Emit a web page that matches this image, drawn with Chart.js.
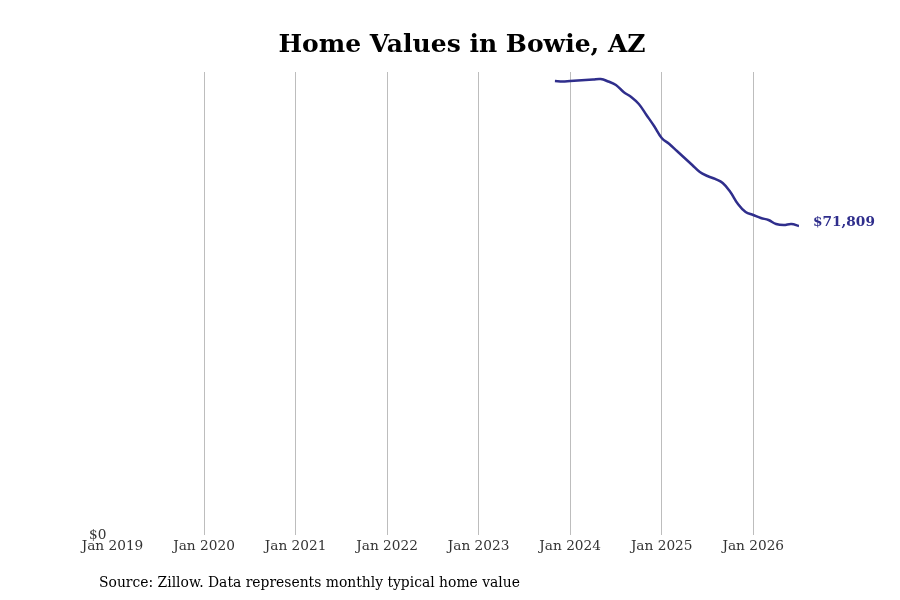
<!DOCTYPE html>
<html>
<head>
<meta charset="utf-8">
<script src="https://cdn.jsdelivr.net/npm/chart.js@4.4.1/dist/chart.umd.min.js"></script>
<style>
html,body{margin:0;padding:0;background:#fff;}
#wrap{width:900px;height:600px;position:relative;}
</style>
</head>
<body>
<div id="wrap"><canvas id="c" width="900" height="600"></canvas></div>
<script>
// Months counted from Jan 2019 (index 0)
const monthIndex = [58,59,60,61,62,63,64,65,66,67,68,69,70,71,72,73,74,75,76,77,78,79,80,81,82,83,84,85,86,87,88,89,90];
const homeValues = [105510,105390,105510,105630,105740,105860,105970,105390,104580,102950,101790,100160,97610,95050,92260,90870,89240,87620,85990,84360,83430,82740,81800,79710,76920,75070,74370,73670,73210,72280,72040,72280,71809];
const yearTickIndex = [0,12,24,36,48,60,72,84];
const yearTickLabels = ['Jan 2019','Jan 2020','Jan 2021','Jan 2022','Jan 2023','Jan 2024','Jan 2025','Jan 2026'];
const titleText = 'Home Values in Bowie, AZ';
const sourceText = 'Source: Zillow. Data represents monthly typical home value';
const lineColor = '#2f2e8c';
const FONT = "'DejaVu Serif', serif";

const points = monthIndex.map((m,i)=>({x:m,y:homeValues[i]}));

const extras = {
  id:'extras',
  afterDraw(chart){
    const ctx = chart.ctx;
    ctx.save();
    ctx.fillStyle = '#000';
    ctx.font = "bold 25px " + FONT;
    ctx.textAlign = 'center';
    ctx.textBaseline = 'middle';
    ctx.fillText(titleText, 462, 45);
    ctx.font = "13.9px " + FONT;
    ctx.textAlign = 'left';
    ctx.fillText(sourceText, 99, 583);
    const meta = chart.getDatasetMeta(0);
    const last = meta.data[meta.data.length-1];
    ctx.fillStyle = lineColor;
    ctx.font = "bold 13.7px " + FONT;
    ctx.fillText('$' + homeValues[homeValues.length-1].toLocaleString('en-US'), last.x + 14, last.y - 4);
    ctx.restore();
  }
};

new Chart(document.getElementById('c'), {
  type:'line',
  data:{datasets:[{data:points,borderColor:lineColor,borderWidth:2.5,pointRadius:0,tension:0.4,fill:false}]},
  options:{
    responsive:false,
    animation:false,
    layout:{padding:{top:72,right:101,left:0,bottom:0}},
    plugins:{legend:{display:false},tooltip:{enabled:false}},
    scales:{
      x:{
        type:'linear',min:0,max:90,
        border:{display:false},
        grid:{lineWidth:1,drawTicks:false,
          color:(c)=> (c.tick && c.tick.value===0) ? 'rgba(0,0,0,0)' : '#bdbdbd'},
        afterBuildTicks:(s)=>{s.ticks = yearTickIndex.map(v=>({value:v}));},
        afterFit:(s)=>{s.height = 65;},
        ticks:{autoSkip:false,maxRotation:0,padding:3,color:'#333',font:{family:FONT,size:13.7},
          callback:(v)=>{const i=yearTickIndex.indexOf(v);return i>=0?yearTickLabels[i]:'';}}
      },
      y:{
        min:0,max:107600,
        border:{display:false},
        grid:{display:false,drawTicks:false},
        afterBuildTicks:(s)=>{s.ticks=[{value:0}];},
        afterFit:(s)=>{s.width = 112.5;},
        ticks:{padding:6,color:'#333',font:{family:FONT,size:13.7},callback:(v)=>'$'+v}
      }
    }
  },
  plugins:[extras]
});
</script>
</body>
</html>
